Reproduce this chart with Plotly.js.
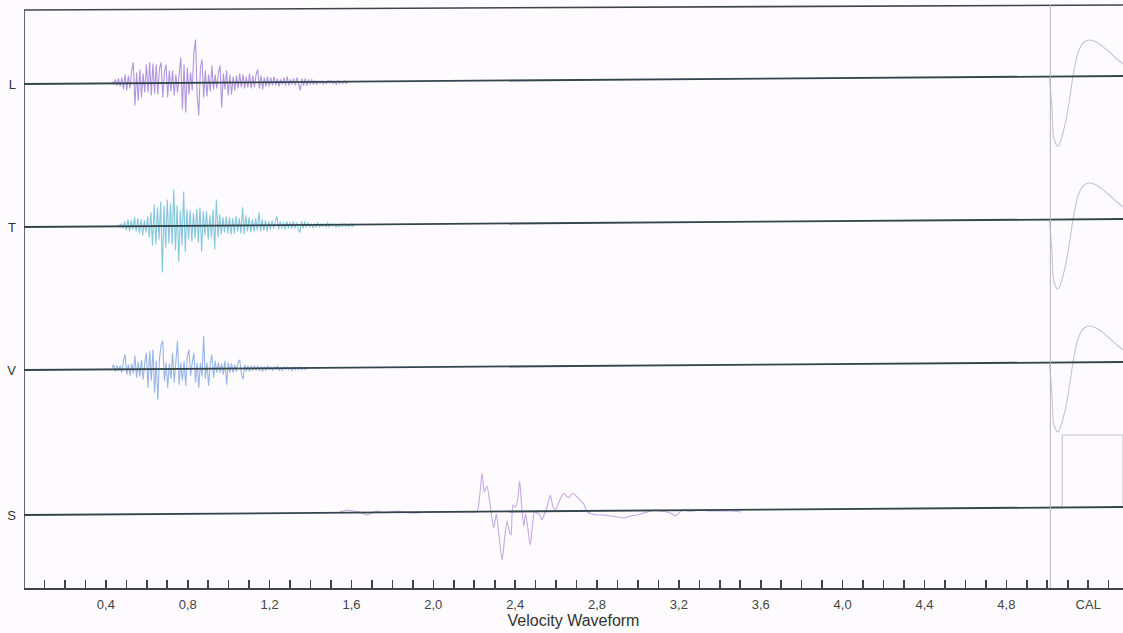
<!DOCTYPE html>
<html><head><meta charset="utf-8">
<script src="https://cdn.plot.ly/plotly-3.0.1.min.js"></script>
<style>html,body{margin:0;padding:0;background:#fdfbfd}#chart{width:1123px;height:633px}</style>
</head><body><div id="chart"></div>
<script>
// ---- data (amplitudes, in trace units) ----
const channels = ["L", "T", "V", "S"];

const L_x0 = 0.43, L_dx = 0.008;
const L_values = [1,-2,3,-3,4,-4,5,-7,8,-8,7,-6,12,20,-23,10,-18,13,-15,9,-10,18,-10,20,-13,19,-11,18,-12,14,20,-15,10,18,-15,12,-9,12,-13,8,-10,10,25,-27,18,-30,15,-12,10,-8,30,43,-12,-33,15,23,-15,12,-14,8,-9,17,-7,8,-6,10,17,-25,9,-7,12,-13,8,-12,6,-8,7,-6,9,-5,8,-6,6,-5,9,-6,7,-5,8,13,-6,7,-7,5,-4,6,-4,5,-3,6,-3,4,-4,3,-2,5,-3,6,-3,3,-2,4,-3,5,-2,-8,4,-3,4,-3,3,-2,3,-2,2,-2,2,-1,2,-2,1,-1,2,-1,2,-1,1,-2,2,-1,1,-1,2,-1,1,0];

const T_x0 = 0.46, T_dx = 0.008;
const T_values = [1,-2,2,-3,4,-5,6,-6,5,-4,8,-6,7,-8,6,-10,5,-7,9,-12,13,-20,21,-19,18,-14,24,-47,20,-22,26,-18,22,-19,36,-25,20,-36,15,-20,34,-26,16,-14,15,-16,12,-13,16,-17,18,-26,14,-10,14,-14,10,-12,16,-24,26,-12,11,-9,8,-7,9,-8,8,-9,7,-8,9,-6,7,-8,18,-9,10,-6,8,-7,6,-6,7,-5,13,-6,6,-5,5,-6,4,-4,5,-3,4,9,-4,4,-3,3,-4,4,-3,3,-3,4,-3,3,-4,-7,4,-3,4,-2,3,-2,2,-3,2,-2,3,-2,2,-1,2,-2,3,-2,2,-1,2,-2,1,-2,2,-1,2,-1,1,-1,2,-1,1,0];

const V_x0 = 0.43, V_dx = 0.008;
const V_values = [1,4,-3,3,-2,3,-4,8,14,-6,4,-7,5,-5,13,-9,7,-8,9,-11,6,16,-19,18,-12,19,-24,8,-31,10,24,28,-12,6,-19,5,-10,16,-14,10,28,-16,6,-12,8,-17,12,19,-7,6,16,-14,6,-19,6,-8,33,-10,6,-17,5,14,-9,8,-4,6,-4,5,-6,8,-16,6,-4,5,-4,4,-3,6,9,-5,-11,4,-3,3,-3,3,-2,3,-2,3,-2,2,-3,2,-2,3,-1,2,-2,2,-1,3,-2,1,-2,2,-1,2,-1,1,-2,2,-1,1,-1,2,-1,1,-1,1,0];

const S_time = [1.544,1.577,1.610,1.642,1.675,1.699,1.724,1.756,1.789,1.822,1.854,1.887,1.920,1.985,2.050,2.115,2.181,2.213,2.226,2.238,2.249,2.262,2.279,2.295,2.308,2.319,2.336,2.349,2.360,2.372,2.380,2.389,2.401,2.412,2.422,2.432,2.442,2.451,2.461,2.474,2.486,2.494,2.507,2.520,2.531,2.543,2.556,2.572,2.585,2.597,2.618,2.638,2.654,2.667,2.681,2.698,2.716,2.735,2.752,2.776,2.801,2.833,2.866,2.899,2.931,2.964,2.996,3.029,3.062,3.086,3.111,3.143,3.168,3.184,3.200,3.217,3.241,3.274,3.306,3.339,3.388,3.453,3.502];
const S_values = [0,2,1,0,-3,-1,1,-1,0,1,0,-1,-1,0,0,0,0,0,15,39,20,26,5,-16,-2,-20,-48,-25,-9,-20,-23,7,5,12,31,5,-14,-2,-15,-33,-10,0,-1,-3,-8,-2,5,17,5,2,12,19,15,15,19,16,12,8,0,-2,-3,-3,-4,-5,-6,-4,-3,-1,1,2,1,0,-2,-4,-1,2,1,1,2,1,1,1,0];

const CAL_time = [5.011,5.023,5.033,5.052,5.085,5.109,5.126,5.150,5.175,5.207,5.248,5.297,5.346,5.378];
const CAL_values = [0,-33,-63,-70,-50,-23,0,23,33,36,33,25,16,11];
const SCAL_time = [5.015,5.073,5.073,5.37,5.37];
const SCAL_values = [0,0,72,72,0];

const labelVals = [0.4,0.8,1.2,1.6,2.0,2.4,2.8,3.2,3.6,4.0,4.4,4.8,5.2];
const labelText = ["0,4","0,8","1,2","1,6","2,0","2,4","2,8","3,2","3,6","4,0","4,4","4,8","CAL"];

// ---- layout / style (positions are in plot units, separate from data) ----
const baseLeft  = {L:504, T:361, V:218, S:73};
const baseRight = {L:512, T:369, V:226, S:81};
const waveOffset = {L:505.5, T:362.6, V:219.3, S:76};
const colors = {L:"#b096e0", T:"#84c8de", V:"#98b6e8", S:"#c6a8e4", CAL:"#c8c2d6"};
const axisColor = "#3f4448";

const tickVals = [], tickText = [];
for (let k = 1; k <= 53; k++) {
  const v = k / 10;
  tickVals.push(v);
  const idx = labelVals.findIndex(l => Math.abs(l - v) < 1e-6);
  tickText.push(idx >= 0 ? labelText[idx] : "");
}

function shift(arr, off) { return arr.map(v => v + off); }

const traces = [
  {x0:L_x0, dx:L_dx, y:shift(L_values, waveOffset.L), mode:"lines", line:{color:colors.L, width:1.1}},
  {x0:T_x0, dx:T_dx, y:shift(T_values, waveOffset.T), mode:"lines", line:{color:colors.T, width:1.1}},
  {x0:V_x0, dx:V_dx, y:shift(V_values, waveOffset.V), mode:"lines", line:{color:colors.V, width:1.1}},
  {x:S_time, y:shift(S_values, waveOffset.S), mode:"lines", line:{color:colors.S, width:1.1, shape:"spline", smoothing:0.6}},
  {x:CAL_time, y:shift(CAL_values, baseRight.L), mode:"lines", line:{color:colors.CAL, width:1.1, shape:"spline"}},
  {x:CAL_time, y:shift(CAL_values, baseRight.T), mode:"lines", line:{color:colors.CAL, width:1.1, shape:"spline"}},
  {x:CAL_time, y:shift(CAL_values, baseRight.V), mode:"lines", line:{color:colors.CAL, width:1.1, shape:"spline"}},
  {x:SCAL_time, y:shift(SCAL_values, baseRight.S), mode:"lines", line:{color:colors.CAL, width:1.1}}
];

const shapes = [];
channels.forEach(c => {
  shapes.push({type:"line", xref:"paper", yref:"y", x0:0, x1:1, y0:baseLeft[c], y1:baseRight[c],
    line:{color:"#34454c", width:1.8}, layer:"above"});
});
// top frame
shapes.push({type:"line", xref:"paper", yref:"y", x0:0, x1:1, y0:578, y1:583, line:{color:axisColor, width:1.6}});
// left frame
shapes.push({type:"line", xref:"x", yref:"y", x0:0, x1:0, y0:0, y1:578, line:{color:axisColor, width:1.6}});
// CAL separator
shapes.push({type:"line", xref:"x", yref:"y", x0:5.015, x1:5.015, y0:0, y1:584, line:{color:"#b4b4bc", width:1}});

const layout = {
  width:1123, height:633,
  margin:{l:24, r:0, t:2, b:45},
  paper_bgcolor:"#fdfbfd", plot_bgcolor:"#fdfbfd",
  showlegend:false,
  font:{family:"Liberation Sans, Arial, sans-serif", color:"#3a3a3a"},
  xaxis:{range:[0,5.37], tickmode:"array", tickvals:tickVals, ticktext:tickText,
    ticks:"inside", ticklen:8, tickwidth:1.6, tickcolor:axisColor,
    showline:true, linecolor:axisColor, linewidth:1.6, showgrid:false, zeroline:false,
    tickfont:{size:13, color:"#444"}, ticklabelstandoff:4, automargin:false,
    title:{text:"Velocity Waveform", font:{size:16, color:"#333"}, standoff:0}},
  yaxis:{range:[0,586], tickmode:"array", tickvals:[baseLeft.L, baseLeft.T, baseLeft.V, baseLeft.S],
    ticktext:channels, ticks:"", showline:false, showgrid:false, zeroline:false,
    tickfont:{size:13, color:"#333"}, ticklabelstandoff:7, automargin:false},
  shapes:shapes
};

Plotly.newPlot("chart", traces, layout, {staticPlot:true, displayModeBar:false});
</script>
</body></html>
